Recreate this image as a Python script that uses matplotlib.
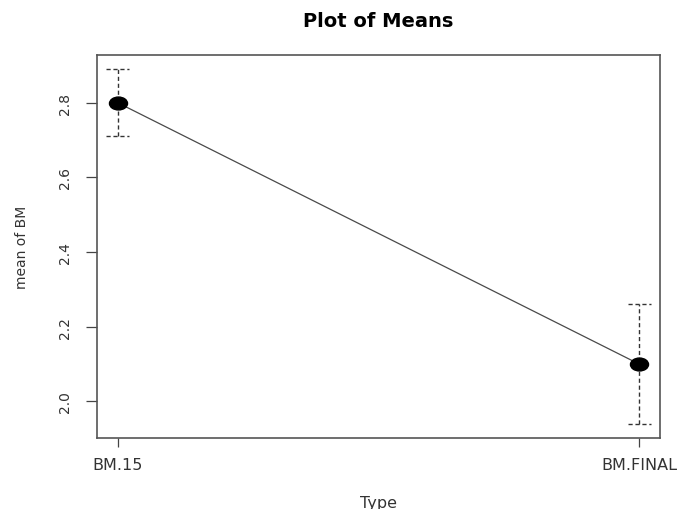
import matplotlib
matplotlib.use("Agg")
import matplotlib.pyplot as plt
from matplotlib.path import Path
from matplotlib.transforms import Affine2D

plt.rcParams['font.family'] = ['DejaVu Sans']

# group means with their confidence limits
groups = ["BM.15", "BM.FINAL"]
means = [2.80, 2.10]
lower = [2.71, 1.94]
upper = [2.89, 2.26]
yticks = [2.0, 2.2, 2.4, 2.6, 2.8]

fig = plt.figure(figsize=(6.81, 5.10), dpi=100)
ax = fig.add_axes([97 / 681, 71 / 510, 563 / 681, 383 / 510])

# slightly wide dot for the means
dot = Path.unit_circle().transformed(Affine2D().scale(1.4, 1.0))

x = list(range(1, len(groups) + 1))
ax.plot(x, means, color='#4a4a4a', linewidth=0.9, zorder=2)
ax.plot(x, means, linestyle='none', marker=dot, color='black',
        markersize=13, zorder=3)

# dashed error bars with flat caps
cap = 0.022
for xi, lo, hi in zip(x, lower, upper):
    ax.plot([xi, xi], [lo, hi], color='#333333', linestyle=(0, (3, 2)),
            linewidth=1.0, zorder=1)
    for yv in (lo, hi):
        ax.plot([xi - cap, xi + cap], [yv, yv], color='#333333',
                linestyle=(0, (3, 2)), linewidth=1.0, zorder=1)

span = max(upper) - min(lower)
ax.set_xlim(0.96, 2.04)
ax.set_ylim(min(lower) - 0.04 * span, max(upper) + 0.04 * span)

ax.set_xticks(x)
ax.set_xticklabels(groups, fontsize=11.5, color='#333333')
ax.set_yticks(yticks)
ax.set_yticklabels([f"{v:.1f}" for v in yticks], rotation=90, va='center',
                   fontsize=10, color='#333333')
ax.tick_params(axis='x', direction='out', length=6.5, width=0.9,
               color='#444444', pad=7)
ax.tick_params(axis='y', direction='out', length=8, width=0.9,
               color='#444444', pad=10)

for s in ax.spines.values():
    s.set_color('#555555')
    s.set_linewidth(1.2)

ax.set_xlabel("Type", fontsize=11.5, color='#333333', labelpad=17)
ax.set_ylabel("mean of BM", fontsize=10, color='#333333', labelpad=21)
ax.set_title("Plot of Means", fontsize=14, fontweight='bold', pad=21)

fig.savefig("out.png", dpi=100)
